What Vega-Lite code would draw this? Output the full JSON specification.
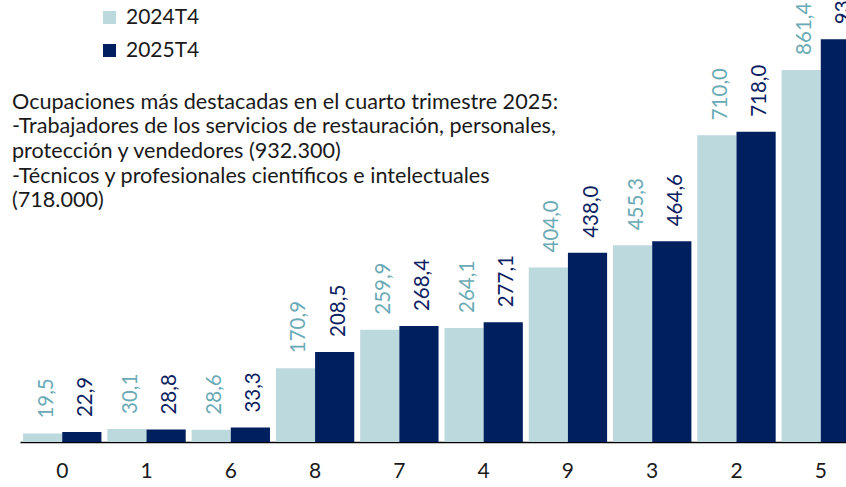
{
  "$schema": "https://vega.github.io/schema/vega-lite/v6.json",
  "autosize": {"type": "none"},
  "width": 843,
  "height": 432,
  "padding": {"left": 20, "top": 10, "right": 0, "bottom": 45},
  "background": "white",
  "config": {
    "view": {"stroke": null},
    "font": "Lato",
    "locale": {"number": {"decimal": ",", "thousands": ".", "grouping": [3], "currency": ["", " €"]}}
  },
  "title": {
    "text": [
      "Ocupaciones más destacadas en el cuarto trimestre 2025:",
      "-Trabajadores de los servicios de restauración, personales,",
      "protección y vendedores (932.300)",
      "-Técnicos y profesionales científicos e intelectuales",
      "(718.000)"
    ],
    "orient": "top",
    "anchor": "start",
    "frame": "group",
    "baseline": "top",
    "offset": 0,
    "dx": -8,
    "dy": 240,
    "font": "Lato",
    "fontSize": 21.6,
    "fontWeight": "normal",
    "color": "#1a1a1a",
    "lineHeight": 24.7
  },
  "data": {
    "values": [
      {"ocupacion": "0", "periodo": "2024T4", "valor": 19.5},
      {"ocupacion": "0", "periodo": "2025T4", "valor": 22.9},
      {"ocupacion": "1", "periodo": "2024T4", "valor": 30.1},
      {"ocupacion": "1", "periodo": "2025T4", "valor": 28.8},
      {"ocupacion": "6", "periodo": "2024T4", "valor": 28.6},
      {"ocupacion": "6", "periodo": "2025T4", "valor": 33.3},
      {"ocupacion": "8", "periodo": "2024T4", "valor": 170.9},
      {"ocupacion": "8", "periodo": "2025T4", "valor": 208.5},
      {"ocupacion": "7", "periodo": "2024T4", "valor": 259.9},
      {"ocupacion": "7", "periodo": "2025T4", "valor": 268.4},
      {"ocupacion": "4", "periodo": "2024T4", "valor": 264.1},
      {"ocupacion": "4", "periodo": "2025T4", "valor": 277.1},
      {"ocupacion": "9", "periodo": "2024T4", "valor": 404.0},
      {"ocupacion": "9", "periodo": "2025T4", "valor": 438.0},
      {"ocupacion": "3", "periodo": "2024T4", "valor": 455.3},
      {"ocupacion": "3", "periodo": "2025T4", "valor": 464.6},
      {"ocupacion": "2", "periodo": "2024T4", "valor": 710.0},
      {"ocupacion": "2", "periodo": "2025T4", "valor": 718.0},
      {"ocupacion": "5", "periodo": "2024T4", "valor": 861.4},
      {"ocupacion": "5", "periodo": "2025T4", "valor": 932.3}
    ]
  },
  "encoding": {
    "x": {
      "field": "ocupacion",
      "type": "nominal",
      "sort": ["0", "1", "6", "8", "7", "4", "9", "3", "2", "5"],
      "scale": {"paddingInner": 0.07, "paddingOuter": 0.036},
      "axis": {
        "title": null,
        "labelAngle": 0,
        "labelFontSize": 21,
        "labelColor": "#1a1a1a",
        "labelPadding": 18,
        "ticks": false,
        "domainColor": "#000000",
        "domainWidth": 1.5,
        "grid": false
      }
    },
    "xOffset": {
      "field": "periodo",
      "type": "nominal",
      "scale": {"paddingInner": 0, "paddingOuter": 0}
    },
    "y": {
      "field": "valor",
      "type": "quantitative",
      "scale": {"domain": [0, 1000]},
      "axis": null
    }
  },
  "layer": [
    {
      "mark": {"type": "bar"},
      "encoding": {
        "color": {
          "field": "periodo",
          "type": "nominal",
          "scale": {"domain": ["2024T4", "2025T4"], "range": ["#bcd9de", "#001f5f"]},
          "legend": {
            "title": null,
            "orient": "none",
            "legendX": 79,
            "legendY": -3,
            "symbolType": "square",
            "symbolSize": 170,
            "symbolStrokeWidth": 0,
            "labelFontSize": 21,
            "labelColor": "#1a1a1a",
            "labelOffset": 6,
            "rowPadding": 11,
            "padding": 0
          }
        }
      }
    },
    {
      "mark": {"type": "text", "angle": 270, "align": "left", "baseline": "middle", "dx": 15, "dy": 4, "fontSize": 20.5},
      "encoding": {
        "text": {"field": "valor", "type": "quantitative", "format": ".1f"},
        "color": {
          "field": "periodo",
          "type": "nominal",
          "scale": {"domain": ["2024T4", "2025T4"], "range": ["#6aaab5", "#0b2060"]},
          "legend": null
        }
      }
    }
  ],
  "resolve": {"scale": {"color": "independent"}}
}
